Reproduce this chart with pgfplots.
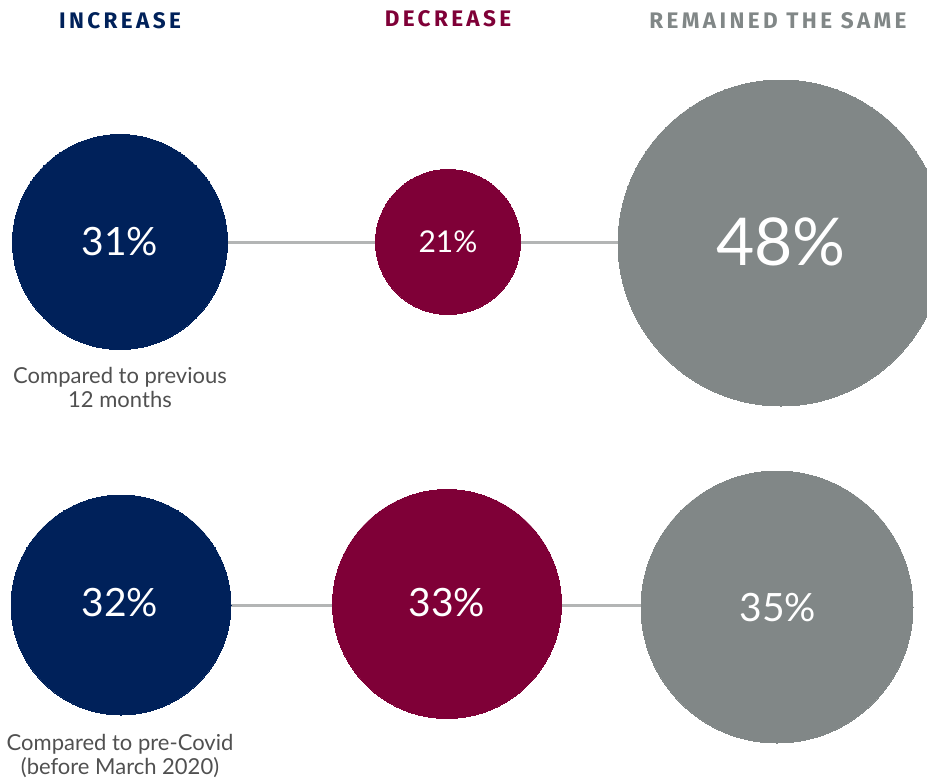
\documentclass[border=0pt]{standalone}
\usepackage{pgfplots}
\pgfplotsset{compat=1.18}
\usepackage{fontspec}
\setmainfont{Lato}
\newfontfamily\headfont[LetterSpace=15]{Fira Sans}
\definecolor{navy}{HTML}{00215A}
\definecolor{crimson}{HTML}{7F0037}
\definecolor{greyc}{HTML}{818787}
\definecolor{linec}{HTML}{B3B5B5}
\definecolor{txtc}{HTML}{505050}
\begin{document}
\begin{tikzpicture}
\begin{axis}[scale only axis, width=927pt, height=779pt,
  xmin=0, xmax=927, ymin=0, ymax=779, y dir=reverse,
  hide axis, clip=true, clip marker paths=true]
% connecting lines
\addplot[linec, line width=3pt] coordinates {(120,242) (781,242)};
\addplot[linec, line width=3pt] coordinates {(121,605) (777,605)};
% row 1: compared to previous 12 months
\addplot[navy, only marks, mark=*, mark size=107.5pt, mark options={draw=navy, fill=navy, line width=0pt}] coordinates {(120,242)};
\addplot[crimson, only marks, mark=*, mark size=72.5pt, mark options={draw=crimson, fill=crimson, line width=0pt}] coordinates {(448,242)};
\addplot[greyc, only marks, mark=*, mark size=163pt, mark options={draw=greyc, fill=greyc, line width=0pt}] coordinates {(781,243)};
% row 2: compared to pre-Covid
\addplot[navy, only marks, mark=*, mark size=110pt, mark options={draw=navy, fill=navy, line width=0pt}] coordinates {(121,605)};
\addplot[crimson, only marks, mark=*, mark size=114.5pt, mark options={draw=crimson, fill=crimson, line width=0pt}] coordinates {(447,604)};
\addplot[greyc, only marks, mark=*, mark size=136pt, mark options={draw=greyc, fill=greyc, line width=0pt}] coordinates {(777,607)};
% value labels
\node[text=white, font=\fontsize{39}{39}\selectfont] at (axis cs:120,242) {31\%};
\node[text=white, font=\fontsize{30}{30}\selectfont] at (axis cs:448,242) {21\%};
\node[text=white, font=\fontsize{66}{66}\selectfont] at (axis cs:781,242) {48\%};
\node[text=white, font=\fontsize{39}{39}\selectfont] at (axis cs:120,603) {32\%};
\node[text=white, font=\fontsize{39}{39}\selectfont] at (axis cs:447,603) {33\%};
\node[text=white, font=\fontsize{39}{39}\selectfont] at (axis cs:778,608) {35\%};
% headers
\node[text=navy, font=\headfont\bfseries\fontsize{22.5}{22.5}\selectfont] at (axis cs:120,21) {INCREASE};
\node[text=crimson, font=\headfont\bfseries\fontsize{22.5}{22.5}\selectfont] at (axis cs:448,19) {DECREASE};
\node[text=greyc, font=\headfont\bfseries\fontsize{22.5}{22.5}\selectfont] at (axis cs:778,21) {REMAINED THE SAME};
% row captions
\node[text=txtc, align=center, font=\fontsize{22}{24}\selectfont] at (axis cs:120,387) {Compared to previous\\12 months};
\node[text=txtc, align=center, font=\fontsize{22}{24}\selectfont] at (axis cs:120,756) {Compared to pre-Covid\\(before March 2020)};
\end{axis}
\pgfresetboundingbox
\path (current axis.south west) rectangle (current axis.north east);
\end{tikzpicture}
\end{document}
